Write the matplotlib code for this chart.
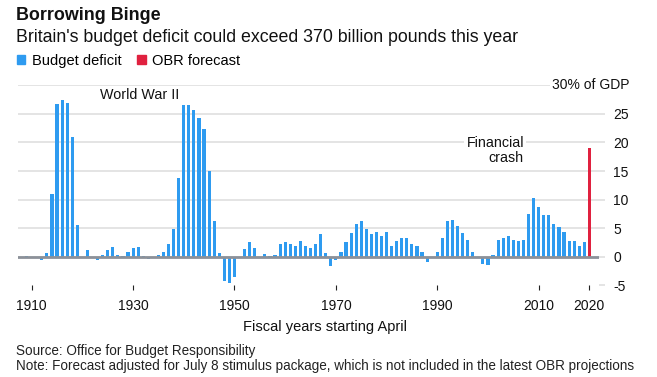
import matplotlib.pyplot as plt
from matplotlib.patches import Patch

plt.rcParams['font.family'] = ['Liberation Sans', 'DejaVu Sans']

# fiscal years and deficit as % of GDP
years = list(range(1909, 2020))
deficit = [
    0.1, -0.1, -0.3, -0.5, 0.7, 10.9, 26.8, 27.4, 26.9, 21.0,    # 1909-1918
    5.6, -0.1, 1.1, -0.2, -0.6, 0.3, 1.2, 1.7, 0.3, 0.2,         # 1919-1928
    0.9, 1.6, 1.7, 0.1, -0.4, -0.2, 0.3, 0.8, 2.2, 4.9,          # 1929-1938
    13.8, 26.6, 26.6, 25.7, 24.3, 22.4, 15.0, 6.3, 0.6, -4.2,    # 1939-1948
    -4.7, -3.6, -0.3, 1.3, 2.5, 1.5, -0.2, 0.5, 0.1, 0.3,        # 1949-1958
    2.3, 2.5, 2.2, 1.8, 2.7, 1.8, 1.5, 2.3, 3.9, 0.6,            # 1959-1968
    -1.6, -0.6, 0.9, 2.5, 4.1, 5.7, 6.3, 4.9, 3.9, 4.4,          # 1969-1978
    3.7, 4.3, 1.9, 2.7, 3.2, 3.2, 2.2, 1.8, 0.9, -0.9,           # 1979-1988
    -0.1, 0.9, 3.2, 6.3, 6.5, 5.3, 4.1, 3.0, 0.9, -0.1,          # 1989-1998
    -1.2, -1.5, 0.35, 2.9, 3.2, 3.7, 3.0, 2.7, 2.9, 7.4,         # 1999-2008
    10.2, 8.7, 7.3, 7.3, 5.8, 5.2, 4.3, 2.7, 2.7, 1.8,           # 2009-2018
    2.5,                                                         # 2019
]
forecast_years = [2020]
forecast = [19.0]

xticks = [1910, 1930, 1950, 1970, 1990, 2010, 2020]
yticks = [-5, 0, 5, 10, 15, 20, 25, 30]

blue = '#2e9bf0'
red = '#e0213f'
grid_c = '#e2e2e2'

fig = plt.figure(figsize=(6.57, 3.77), dpi=100)
W, H = 657, 377
ax = fig.add_axes([18 / W, 1 - 285.2 / H, (599 - 18) / W, (285.2 - 85.4) / H])

ax.bar(years, deficit, width=0.62, color=blue, zorder=2)
ax.bar(forecast_years, forecast, width=0.55, color=red, zorder=2)
ax.axhline(0, color='#8c9199', lw=2, zorder=3)

ax.set_xlim(1907.3, 2021.9)
ax.set_ylim(-5, 30)
ax.set_xticks(xticks)
ax.set_yticks(yticks)
ax.set_yticklabels([str(v) for v in yticks[:-1]] + [''])
ax.yaxis.tick_right()
ax.grid(axis='y', color=grid_c, lw=1.3, zorder=0)
ax.get_ygridlines()[0].set_visible(False)
for s in ax.spines.values():
    s.set_visible(False)
ax.tick_params(axis='y', length=4.3, width=1.3, color=grid_c, pad=5.8,
               labelsize=10, labelcolor='#111111')
ax.tick_params(axis='x', length=3.6, width=0.8, color='#222222', pad=6,
               labelsize=10, labelcolor='#111111')

ax.annotate('30% of GDP', xy=(1, 30), xycoords=ax.get_yaxis_transform(),
            xytext=(22.3, 0), textcoords='offset points', ha='right', va='center',
            fontsize=10, color='#111111',
            bbox=dict(boxstyle='square,pad=0.15', fc='white', ec='none'))
ax.text(1931.3, 28.3, 'World War II', ha='center', va='center', fontsize=10.3,
        color='#111111')
ax.text(2007.1, 18.65, 'Financial\ncrash', ha='right', va='center', fontsize=10.3,
        linespacing=1.1, color='#111111',
        bbox=dict(boxstyle='square,pad=0.15', fc='white', ec='none'))

fig.text(16 / W, 1 - 15 / H, 'Borrowing Binge', fontsize=12.9, fontweight='bold',
         va='center', ha='left', color='#111111')
fig.text(16 / W, 1 - 37 / H,
         "Britain's budget deficit could exceed 370 billion pounds this year",
         fontsize=12.8, va='center', ha='left', color='#111111')
handles = [Patch(color=blue, label='Budget deficit'),
           Patch(color=red, label='OBR forecast')]
fig.legend(handles=handles, loc='center left', bbox_to_anchor=(16.5 / W, 1 - 61 / H),
           ncol=2, frameon=False, fontsize=10.5, handlelength=0.58, handleheight=0.58,
           handletextpad=0.46, columnspacing=1.1, borderpad=0, borderaxespad=0)

fig.text(325 / W, 1 - 327 / H, 'Fiscal years starting April', fontsize=10.5,
         ha='center', va='center', color='#111111')
fig.text(16 / W, 1 - 351 / H, 'Source: Office for Budget Responsibility',
         fontsize=9.75, ha='left', va='center', color='#222222')
fig.text(16 / W, 1 - 366 / H,
         'Note: Forecast adjusted for July 8 stimulus package, which is not included '
         'in the latest OBR projections',
         fontsize=9.75, ha='left', va='center', color='#222222')

fig.savefig('out.png', dpi=100)
